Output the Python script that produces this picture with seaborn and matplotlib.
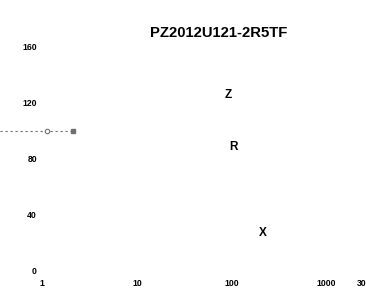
import matplotlib
matplotlib.use("Agg")
import matplotlib.pyplot as plt
import matplotlib.transforms as mtransforms
import seaborn as sns
import pandas as pd

title = "PZ2012U121-2R5TF"

x_ticks = [1, 10, 100, 1000, 3000]
y_ticks = [0, 40, 80, 120, 160]

# gray dashed trace at the left (runs past the axis start)
trace_x = [0.36, 0.45, 0.56, 0.7, 0.88, 1.13, 1.4, 1.7, 2.1]
trace_y = [100, 100, 100, 100, 100, 100, 100, 100, 100]
circle_x = [1.13]
circle_y = [100]
square_x = [2.1]
square_y = [100]

# curve labels
label_names = ["Z", "R", "X"]
label_x = [92, 104, 214]
label_y = [126, 88.6, 27.5]

sns.set_style("white")
plt.rcParams["font.family"] = ["Liberation Sans", "DejaVu Sans"]
plt.rcParams["font.weight"] = "bold"
plt.rcParams["text.color"] = "black"

fig = plt.figure(figsize=(3.66, 2.88), dpi=100)
ax = fig.add_axes([42 / 366, 17 / 288, 330 / 366, 224 / 288])

trace = pd.DataFrame({"x": trace_x, "y": trace_y})
sns.lineplot(data=trace, x="x", y="y", ax=ax, color="#707070",
             linewidth=0.8, linestyle=(0, (2, 2.5)), clip_on=False)
ax.plot(circle_x, circle_y, marker="o", markersize=3.2, markerfacecolor="white",
        markeredgecolor="#707070", markeredgewidth=0.8, linestyle="none", clip_on=False)
ax.plot(square_x, square_y, marker="s", markersize=2.6, color="#707070",
        linestyle="none", clip_on=False)

for name, lx, ly in zip(label_names, label_x, label_y):
    ax.text(lx, ly, name, ha="center", va="center", fontsize=8.5,
            fontweight="bold", color="black")

ax.set_xscale("log")
ax.set_xlim(1, 3000)
ax.set_ylim(0, 160)
ax.set_xticks(x_ticks)
ax.set_xticklabels([str(t) for t in x_ticks])
ax.set_yticks(y_ticks)
ax.set_yticklabels([str(t) for t in y_ticks])
ax.xaxis.set_minor_locator(matplotlib.ticker.NullLocator())
ax.tick_params(axis="both", length=0, labelsize=6.2, labelcolor="black")
ax.tick_params(axis="y", pad=3.6)
ax.tick_params(axis="x", pad=5.5)
for lab in ax.get_xticklabels() + ax.get_yticklabels():
    lab.set_fontweight("bold")

# last x label sits a little left of its tick, half cut by the edge
last = ax.get_xticklabels()[-1]
last.set_transform(last.get_transform()
                   + mtransforms.ScaledTranslation(-5 / 100, 0, fig.dpi_scale_trans))

ax.set_xlabel("")
ax.set_ylabel("")
sns.despine(ax=ax, left=True, bottom=True)

ax.set_title(title, x=0.535, pad=7.4, fontsize=10.7, fontweight="bold", color="black")

fig.savefig("out.png", dpi=100)
